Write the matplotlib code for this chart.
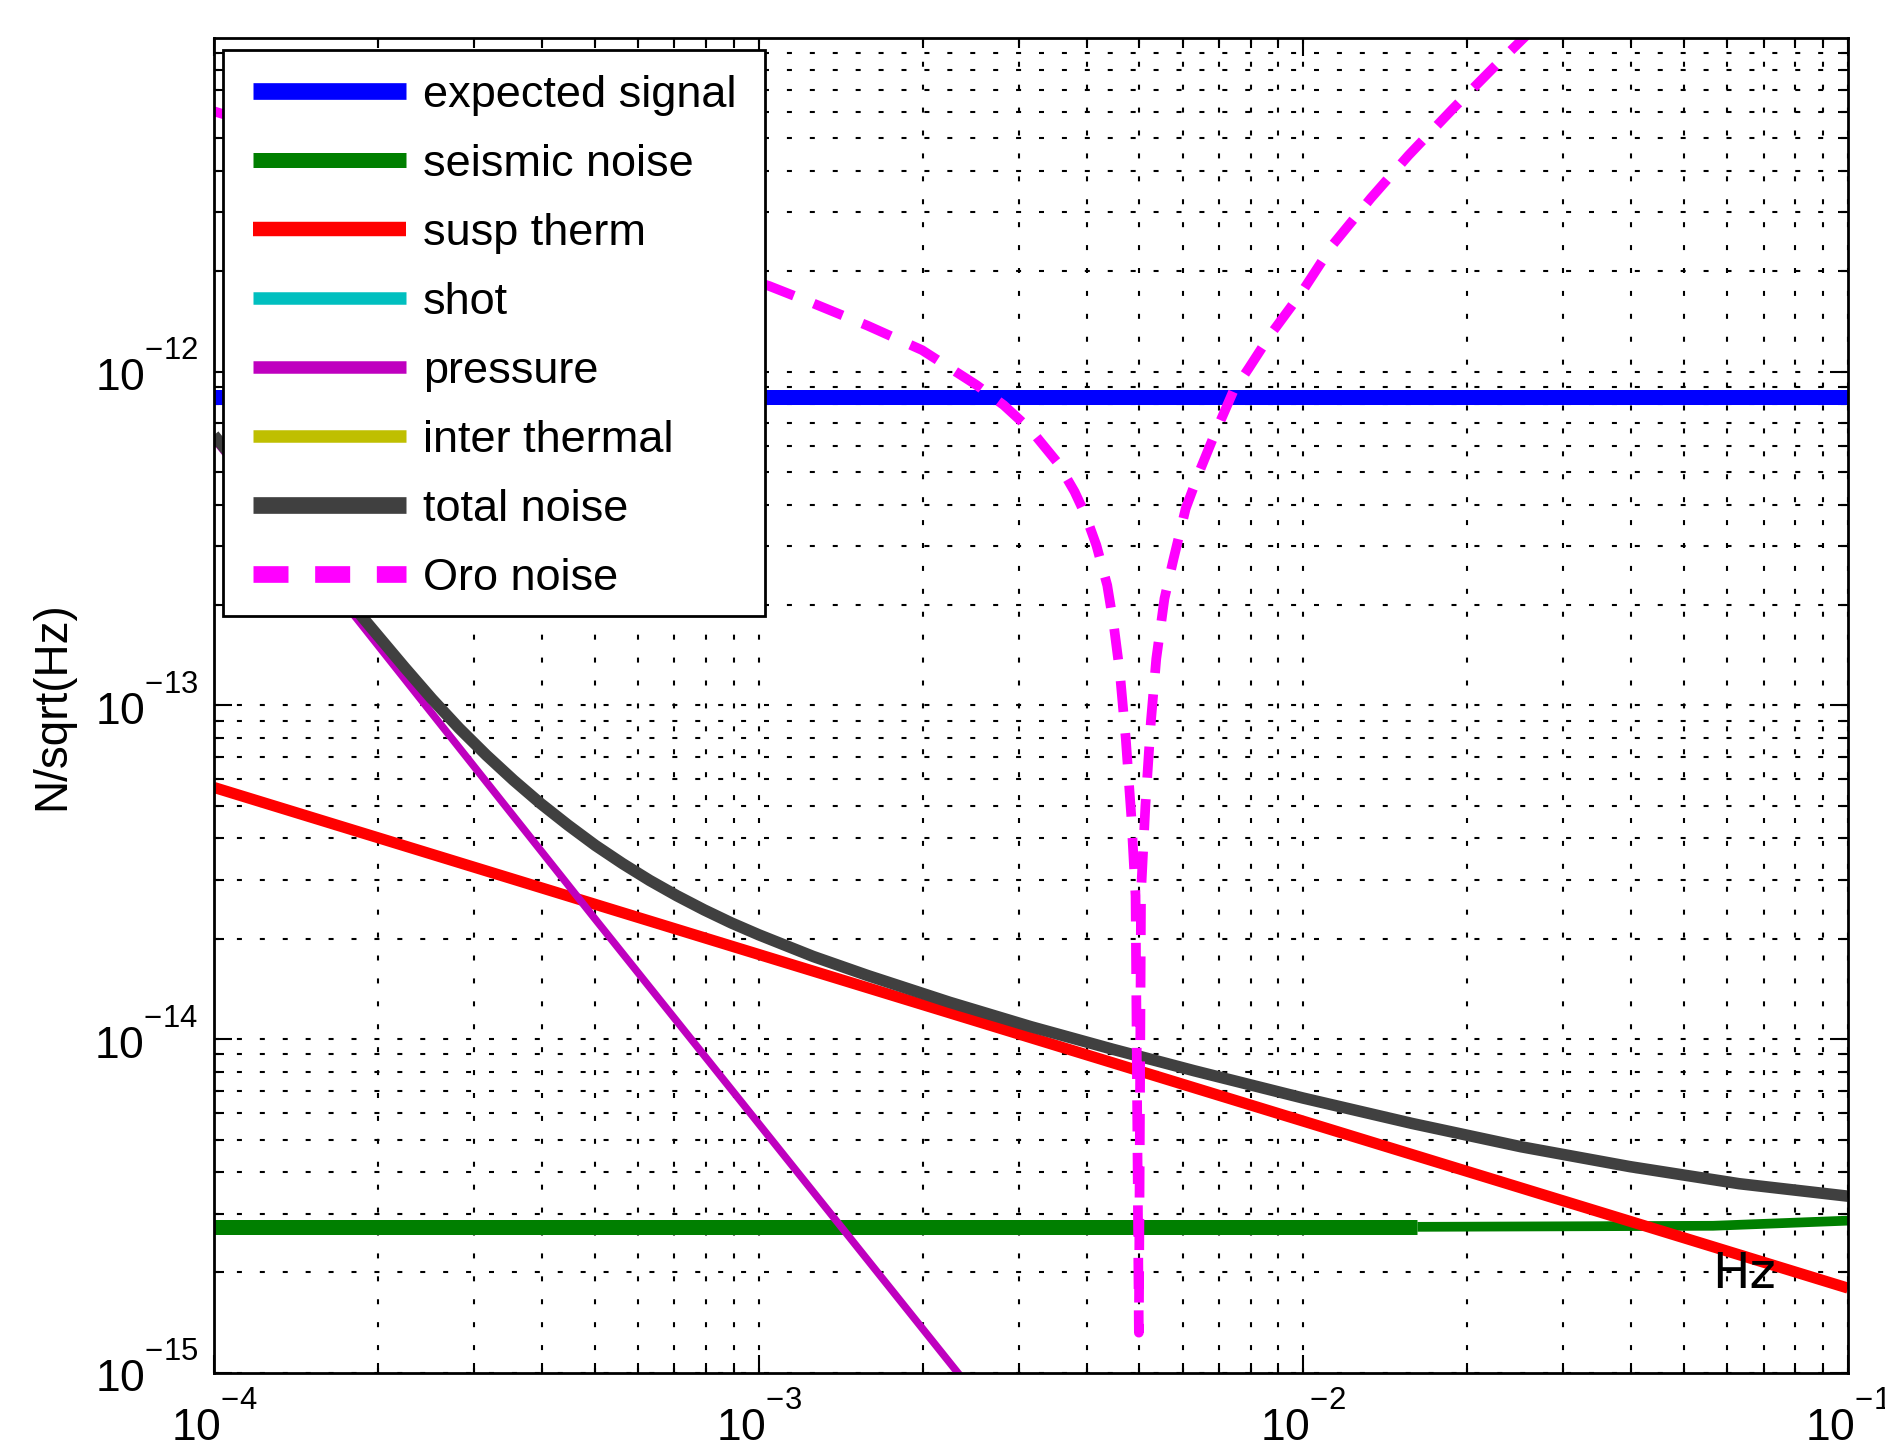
import numpy as np
import matplotlib
matplotlib.use("Agg")
import matplotlib.pyplot as plt
from matplotlib.patches import Rectangle
from matplotlib.transforms import ScaledTranslation

plt.rcParams["font.family"] = ["Liberation Sans", "DejaVu Sans"]
plt.rcParams["mathtext.fontset"] = "custom"
plt.rcParams["mathtext.rm"] = "Liberation Sans"
plt.rcParams["lines.solid_capstyle"] = "butt"
plt.rcParams["lines.dash_capstyle"] = "butt"

# raise the exponents of the tick labels a bit, MATLAB style
try:
    from matplotlib import _mathtext
    _mathtext.FontConstantsBase.sup1 = 1.3
except Exception:
    pass

# values (frequency in Hz, noise in N/sqrt(Hz))
sig_f = [1e-4, 1e-1]
sig_v = [8.4e-13, 8.4e-13]

seis_f = [1e-4, 1.62e-2]
seis_v = [2.74e-15, 2.74e-15]
seis_hi_f = [1.62e-2, 5.65e-2, 1e-1]
seis_hi_v = [2.74e-15, 2.76e-15, 2.86e-15]

susp_f = [1e-4, 1e-3, 1e-2, 1e-1]
susp_v = [5.68e-14, 1.795e-14, 5.68e-15, 1.795e-15]

press_f = [1e-4, 5e-4, 2.5e-3]
press_v = [6.3e-13, 2.3e-14, 8.6e-16]

total_f = [1e-4, 1.585e-4, 1.892e-4, 2.239e-4, 2.512e-4, 2.818e-4, 3.162e-4,
           3.548e-4, 3.981e-4, 4.467e-4, 5.012e-4, 5.623e-4, 6.310e-4,
           7.079e-4, 7.943e-4, 8.913e-4, 1e-3, 1.259e-3, 1.585e-3, 2.239e-3,
           3.162e-3, 4.467e-3, 6.310e-3, 1e-2, 1.585e-2, 2.512e-2, 3.981e-2,
           6.310e-2, 1e-1]
total_v = [6.46e-13, 2.57e-13, 1.803e-13, 1.300e-13, 1.047e-13, 8.55e-14,
           7.10e-14, 5.97e-14, 5.08e-14, 4.38e-14, 3.81e-14, 3.36e-14,
           2.99e-14, 2.69e-14, 2.44e-14, 2.23e-14, 2.056e-14, 1.770e-14,
           1.552e-14, 1.291e-14, 1.090e-14, 9.33e-15, 8.04e-15, 6.66e-15,
           5.59e-15, 4.76e-15, 4.15e-15, 3.69e-15, 3.385e-15]

oro_f = [1e-4, 3.162e-4, 1.045e-3, 1.259e-3, 1.585e-3, 1.995e-3, 2.512e-3,
         2.818e-3, 3.162e-3, 3.548e-3, 3.802e-3, 3.981e-3, 4.169e-3,
         4.365e-3, 4.487e-3, 4.603e-3, 4.721e-3, 4.831e-3, 4.920e-3,
         4.989e-3,
         5.035e-3, 5.129e-3, 5.248e-3, 5.370e-3, 5.559e-3, 5.768e-3,
         6.081e-3, 6.457e-3, 6.855e-3, 7.430e-3, 7.943e-3, 8.710e-3,
         9.931e-3, 1.132e-2, 1.330e-2, 1.560e-2, 1.879e-2, 2.234e-2,
         2.553e-2, 2.818e-2]
oro_v = [6.03e-12, 3.39e-12, 1.807e-12, 1.603e-12, 1.374e-12, 1.161e-12,
         9.12e-13, 7.94e-13, 6.68e-13, 5.31e-13, 4.37e-13, 3.72e-13,
         3.02e-13, 2.29e-13, 1.738e-13, 1.259e-13, 7.94e-14, 4.68e-14,
         2.69e-14, 1.32e-15,
         2.75e-14, 5.01e-14, 8.91e-14, 1.380e-13, 2.09e-13, 2.72e-13,
         3.89e-13, 5.06e-13, 6.43e-13, 8.71e-13, 1.026e-12, 1.294e-12,
         1.730e-12, 2.40e-12, 3.31e-12, 4.45e-12, 6.12e-12, 8.15e-12,
         1.009e-11, 1.183e-11]

labels = ["expected signal", "seismic noise", "susp therm", "shot",
          "pressure", "inter thermal", "total noise", "Oro noise"]

fig = plt.figure(figsize=(18.85, 14.55), dpi=100)
ax = fig.add_axes([0.1135, 0.0564, 0.8669, 0.9175])

ax.loglog(sig_f, sig_v, color="#0000FF", lw=10.8, label=labels[0])
ax.loglog(seis_f, seis_v, color="#007F00", lw=10.8, label=labels[1])
ax.loglog(seis_hi_f, seis_hi_v, color="#007F00", lw=7)
ax.loglog(susp_f, susp_v, color="#FF0000", lw=8, label=labels[2])
ax.loglog([], [], color="#00BFBF", lw=8, label=labels[3])
ax.loglog(press_f, press_v, color="#BF00BF", lw=5.4, label=labels[4])
ax.loglog([], [], color="#BFBF00", lw=8, label=labels[5])
ax.loglog(total_f, total_v, color="#404040", lw=8.3, label=labels[6])
ax.loglog(oro_f, oro_v, color="#FF00FF", lw=7, dashes=(3.2, 2.2),
          label=labels[7])

ax.set_xlim(1e-4, 1e-1)
ax.set_ylim(1e-15, 1e-11)
ax.set_xticks([1e-4, 1e-3, 1e-2, 1e-1])
ax.set_yticks([1e-15, 1e-14, 1e-13, 1e-12])

grid_ls = (0, (2.4, 8.6))
ax.grid(True, which="major", color="black", lw=1.5, ls=grid_ls)
ax.grid(True, which="minor", color="black", lw=1.5, ls=grid_ls)

ax.tick_params(which="both", direction="in", top=True, right=True,
               width=1.5, labelsize=32)
ax.tick_params(which="major", length=13)
ax.tick_params(which="minor", length=7)
ax.tick_params(axis="x", which="major", pad=14)
ax.tick_params(axis="y", which="major", pad=11.5)
for s in ax.spines.values():
    s.set_linewidth(2)

# nudge the y tick labels up so the "10" sits on the tick
shift = ScaledTranslation(0, 0.05, fig.dpi_scale_trans)
for lab in ax.get_yticklabels():
    lab.set_transform(lab.get_transform() + shift)

ax.set_ylabel("N/sqrt(Hz)", fontsize=33)
ax.yaxis.set_label_coords(-0.0855, 0.5)

# legend box drawn separately so the padding matches the original
frame = Rectangle((223 / 1885, 1 - 616 / 1455), 542 / 1885, 566 / 1455,
                  transform=fig.transFigure, facecolor="white",
                  edgecolor="black", lw=2, zorder=4.5, clip_on=False)
ax.add_patch(frame)
leg = ax.legend(loc="upper left", bbox_to_anchor=(253 / 1885, 1 - 75 / 1455),
                bbox_transform=fig.transFigure, frameon=False, fontsize=32.5,
                borderpad=0, borderaxespad=0, handlelength=3.4,
                handletextpad=0.36, labelspacing=0.62)
leg_widths = [12, 10.8, 10.4, 9, 9, 9, 12, 12]
for line, w in zip(leg.get_lines(), leg_widths):
    line.set_linewidth(w)
leg.get_lines()[-1].set_dashes([2.1, 1.6])

fig.text(1712 / 1885, 1 - 1288 / 1455, "Hz", fontsize=36,
         family="DejaVu Sans", ha="left", va="baseline")

fig.savefig("out.png", dpi=100)
